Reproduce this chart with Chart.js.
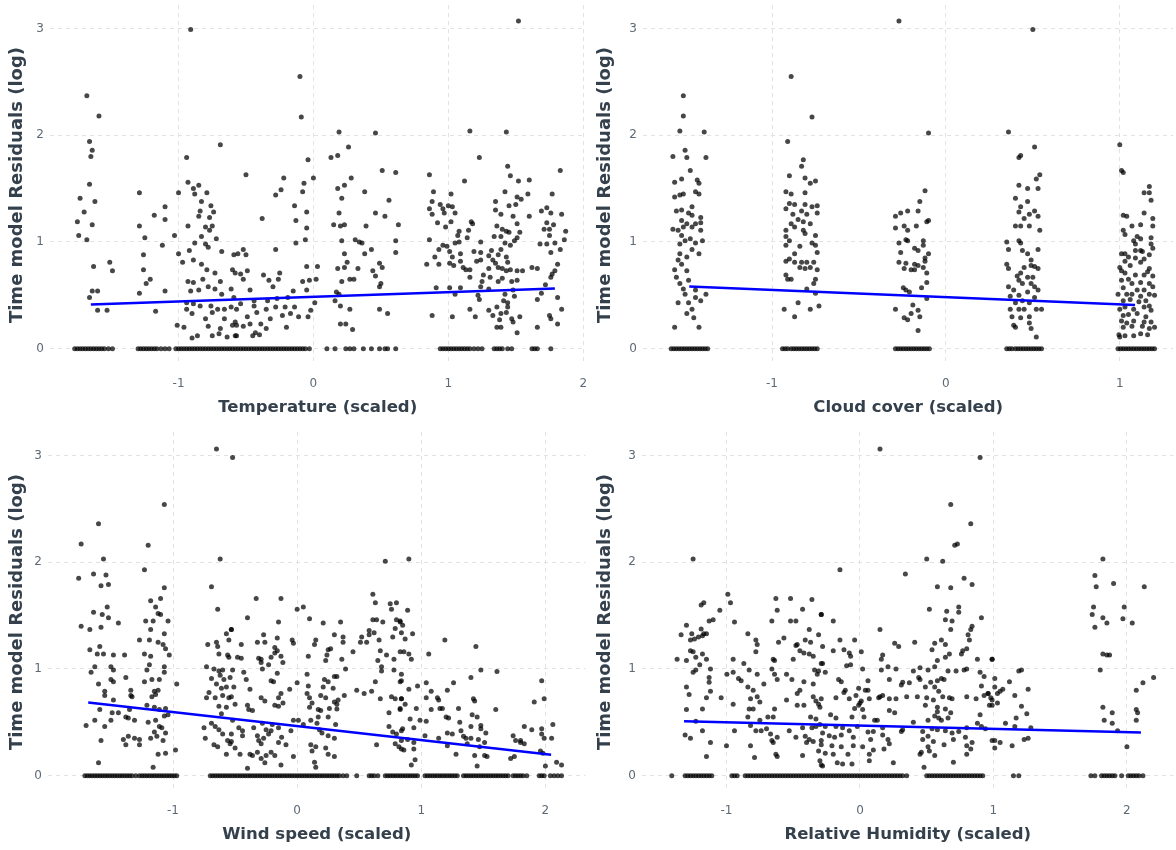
<!DOCTYPE html>
<html>
<head>
<meta charset="utf-8">
<script src="https://cdn.jsdelivr.net/npm/chart.js@4.4.0/dist/chart.umd.min.js"></script>
<style>
  body { margin: 0; background: #fff; }
  .panel { position: absolute; width: 588px; height: 425px; }
</style>
</head>
<body>
<div class="panel" style="left:0;top:0"><canvas id="tempChart" width="588" height="425"></canvas></div>
<div class="panel" style="left:588px;top:0"><canvas id="cloudChart" width="588" height="425"></canvas></div>
<div class="panel" style="left:0;top:427px"><canvas id="windChart" width="588" height="425"></canvas></div>
<div class="panel" style="left:588px;top:427px"><canvas id="humChart" width="588" height="425"></canvas></div>
<script>
// --- data: [x (scaled), residual (log)] ---
const yTicks = [0, 1, 2, 3];

// Temperature
const tempTicks = [-1, 0, 1, 2];
const tempPoints = [
  [-0.91,2.99],[-1.68,2.37],[-1.59,2.18],[-1.66,1.94],[-1.64,1.86],[-1.65,1.80],[-0.69,1.91],[-0.94,1.79],[-1.66,1.54],[-1.73,1.41],
  [-1.62,1.38],[-1.70,1.28],[-1.75,1.19],[-1.64,1.16],[-1.74,1.06],[-1.68,1.02],[-1.63,0.77],[-1.51,0.81],[-1.49,0.73],[-1.64,0.54],
  [-1.60,0.54],[-1.66,0.48],[-1.60,0.36],[-1.53,0.36],[-1.29,1.46],[-1.29,1.15],[-1.25,1.04],[-1.18,1.25],[-1.10,1.33],[-1.10,1.21],
  [-1.12,0.97],[-1.03,1.06],[-1.26,0.88],[-1.26,0.74],[-1.21,0.65],[-1.24,0.61],[-1.29,0.52],[-1.10,0.54],[-1.17,0.35],[-1.00,1.46],
  [-0.93,1.56],[-0.89,1.50],[-0.85,1.53],[-0.88,1.45],[-0.79,1.46],[-0.83,1.38],[-0.76,1.34],[-0.74,1.28],[-0.84,1.29],[-0.85,1.24],
  [-0.77,1.23],[-0.93,1.15],[-0.80,1.14],[-0.75,1.15],[-0.77,1.11],[-0.83,1.05],[-0.72,1.03],[-1.00,0.89],[-0.92,0.92],[-0.88,0.99],
  [-0.80,0.98],[-0.78,0.95],[-0.68,0.91],[-0.97,0.81],[-0.89,0.83],[-0.83,0.79],[-0.79,0.74],[-0.73,0.71],[-0.60,0.74],[-0.93,0.63],
  [-0.89,0.62],[-0.82,0.65],[-0.69,0.63],[-0.61,0.56],[-0.91,0.54],[-0.85,0.55],[-0.78,0.58],[-0.73,0.56],[-0.68,0.51],[-0.94,0.43],
  [-0.89,0.42],[-0.76,0.40],[-0.71,0.37],[-0.66,0.37],[-0.61,0.39],[-0.94,0.37],[-0.90,0.33],[-0.84,0.40],[-0.75,0.34],[-0.80,0.28],
  [-0.66,0.28],[-0.60,0.22],[-1.01,0.22],[-0.96,0.20],[-0.78,0.21],[-0.69,0.19],[-0.58,0.25],[-0.86,0.12],[-0.90,0.10],[-0.75,0.12],
  [-0.70,0.14],[-0.64,0.11],[-0.58,0.12],[-0.58,0.71],[-0.56,0.89],
  [-0.10,2.55],[-0.09,2.17],[0.19,2.03],[0.46,2.02],[0.26,1.89],[0.13,1.79],[0.18,1.81],[-0.04,1.77],[-0.50,1.63],[-0.22,1.60],
  [0.00,1.60],[-0.07,1.55],[0.28,1.60],[0.51,1.67],[0.61,1.65],[-0.24,1.49],[-0.28,1.44],[-0.08,1.47],[0.18,1.50],[0.23,1.53],
  [0.38,1.47],[0.21,1.41],[0.56,1.39],[-0.14,1.34],[-0.05,1.28],[0.19,1.27],[0.46,1.27],[0.53,1.24],[-0.38,1.22],[-0.13,1.20],
  [0.15,1.16],[0.20,1.15],[0.23,1.16],[0.39,1.15],[0.63,1.16],[-0.05,1.13],[-0.13,0.99],[-0.06,1.02],[0.21,1.01],[0.31,1.02],
  [0.34,1.00],[0.36,0.99],[0.61,1.01],[0.61,0.90],[0.43,0.93],[0.38,0.89],[0.23,0.89],[-0.28,0.93],[-0.52,0.93],[-0.50,0.88],
  [-0.59,0.88],[-0.05,0.77],[0.03,0.77],[0.18,0.75],[0.25,0.81],[0.23,0.76],[0.33,0.75],[0.44,0.73],[0.49,0.80],[0.51,0.76],
  [-0.49,0.73],[-0.37,0.69],[-0.54,0.70],[-0.33,0.64],[-0.25,0.71],[-0.26,0.65],[-0.52,0.65],[-0.08,0.63],[-0.03,0.64],[0.02,0.65],
  [0.21,0.63],[0.27,0.65],[0.30,0.65],[0.46,0.68],[0.50,0.61],[-0.05,0.55],[-0.30,0.58],[-0.47,0.55],[-0.15,0.54],[0.17,0.53],
  [0.19,0.51],[0.49,0.58],[-0.59,0.48],[-0.44,0.45],[-0.34,0.45],[-0.27,0.47],[-0.19,0.48],[-0.54,0.42],[-0.44,0.40],[-0.35,0.37],
  [-0.28,0.39],[-0.21,0.39],[-0.14,0.39],[-0.02,0.36],[0.01,0.43],[0.16,0.45],[0.20,0.40],[0.27,0.37],[0.49,0.37],[0.55,0.33],
  [-0.57,0.37],[-0.49,0.30],[-0.42,0.34],[-0.32,0.28],[-0.23,0.31],[-0.17,0.33],[-0.11,0.30],[-0.04,0.30],[-0.57,0.22],[-0.52,0.21],
  [-0.47,0.23],[-0.39,0.23],[-0.35,0.19],[-0.20,0.20],[0.20,0.23],[0.24,0.23],[0.29,0.18],[-0.57,0.12],[-0.45,0.12],[-0.40,0.13],
  [-0.43,0.15],
  [1.52,3.07],[1.16,2.04],[1.43,2.03],[1.23,1.79],[1.44,1.71],[1.83,1.67],[0.86,1.63],[1.46,1.62],[1.12,1.57],[1.52,1.57],
  [1.60,1.58],[0.89,1.47],[1.02,1.45],[1.42,1.47],[1.59,1.45],[1.77,1.45],[1.51,1.42],[1.54,1.40],[0.88,1.38],[1.35,1.38],
  [0.94,1.35],[1.00,1.34],[1.03,1.33],[0.86,1.31],[0.96,1.31],[1.45,1.34],[1.50,1.35],[1.35,1.30],[1.73,1.32],[0.88,1.26],
  [0.97,1.27],[1.05,1.27],[1.39,1.26],[1.69,1.29],[1.76,1.27],[1.84,1.26],[1.48,1.24],[1.60,1.24],[0.92,1.18],[1.02,1.19],
  [1.17,1.19],[1.51,1.17],[1.73,1.18],[1.78,1.16],[0.98,1.14],[1.18,1.17],[1.36,1.15],[1.40,1.12],[1.71,1.12],[1.75,1.12],
  [1.08,1.10],[1.15,1.11],[1.43,1.10],[1.45,1.09],[1.53,1.09],[1.87,1.10],[1.75,1.06],[1.07,1.06],[1.14,1.04],[1.34,1.05],
  [1.39,1.05],[1.49,1.01],[0.86,1.02],[1.05,0.99],[1.08,1.00],[1.24,1.00],[1.51,1.04],[1.86,1.02],[0.96,0.97],[0.99,0.96],
  [1.68,0.98],[1.73,0.98],[1.79,0.99],[1.42,0.99],[1.46,0.97],[0.93,0.93],[1.01,0.91],[1.19,0.91],[1.24,0.90],[1.32,0.92],
  [1.39,0.93],[1.83,0.93],[1.76,0.90],[0.90,0.86],[1.03,0.86],[1.09,0.89],[1.30,0.87],[1.37,0.88],[1.43,0.86],[0.84,0.79],
  [0.93,0.79],[1.01,0.80],[1.04,0.78],[1.09,0.82],[1.11,0.76],[1.21,0.82],[1.24,0.83],[1.33,0.83],[1.35,0.80],[1.44,0.81],
  [1.37,0.76],[1.40,0.75],[1.43,0.73],[1.46,0.74],[1.51,0.73],[1.55,0.73],[1.62,0.76],[1.66,0.75],[1.81,0.79],[1.79,0.73],
  [1.13,0.74],[1.16,0.74],[1.30,0.75],[1.16,0.67],[1.26,0.69],[1.31,0.67],[1.40,0.66],[1.77,0.70],[1.76,0.67],[1.25,0.63],
  [1.47,0.63],[1.51,0.64],[1.37,0.63],[0.91,0.57],[1.01,0.57],[1.09,0.57],[1.24,0.58],[1.30,0.56],[1.72,0.60],[1.05,0.51],
  [1.22,0.50],[1.42,0.51],[1.48,0.55],[1.69,0.52],[1.23,0.46],[1.41,0.45],[1.49,0.49],[1.66,0.46],[1.81,0.48],[1.44,0.43],
  [1.44,0.39],[1.16,0.37],[1.30,0.36],[1.36,0.39],[1.84,0.37],[0.88,0.31],[1.03,0.30],[1.20,0.30],[1.33,0.31],[1.39,0.33],
  [1.43,0.34],[1.53,0.30],[1.75,0.31],[1.76,0.28],[1.38,0.27],[1.47,0.28],[1.48,0.25],[1.81,0.23],[1.36,0.20],[1.39,0.20],
  [1.66,0.20],[1.51,0.15]
];
const tempZeros = [
  -1.77,-1.75,-1.73,-1.71,-1.69,-1.67,-1.65,-1.63,-1.61,-1.59,-1.57,-1.55,-1.52,-1.49,
  -1.30,-1.28,-1.26,-1.24,-1.22,-1.20,-1.18,-1.16,-1.13,-1.10,-1.07,
  -1.02,-1.00,-0.98,-0.96,-0.94,-0.92,-0.90,-0.88,-0.86,-0.84,-0.82,-0.80,-0.78,-0.76,-0.74,-0.72,-0.70,-0.68,-0.66,-0.64,
  -0.62,-0.60,-0.58,-0.56,-0.54,-0.52,-0.50,-0.48,-0.46,-0.44,-0.42,-0.40,-0.38,-0.36,-0.34,-0.32,-0.30,-0.28,-0.26,-0.24,
  -0.22,-0.20,-0.18,-0.16,-0.14,-0.12,-0.10,-0.08,-0.06,-0.03,
  0.10,0.16,0.24,0.27,0.30,0.37,0.43,0.49,0.53,0.55,0.61,
  0.94,0.96,0.98,1.00,1.02,1.04,1.06,1.08,1.10,1.12,1.14,1.16,1.19,1.22,1.25,1.34,1.36,1.38,1.40,1.44,1.47,1.62,1.64,1.66,1.76
];
const tempFitX = [-1.65, 1.79];
const tempFitY = [0.414, 0.564];

// Cloud cover
const cloudTicks = [-1, 0, 1];
const cloudPoints = [
  [-1.51,2.37],[-1.51,2.18],[-1.53,2.04],[-1.39,2.03],[-1.50,1.86],[-1.57,1.80],[-1.49,1.79],[-1.38,1.79],[-1.47,1.67],[-1.56,1.56],
  [-1.52,1.59],[-1.43,1.58],[-1.42,1.55],[-1.44,1.47],[-1.42,1.45],[-1.56,1.42],[-1.53,1.44],[-1.51,1.45],[-1.46,1.33],[-1.55,1.29],
  [-1.52,1.30],[-1.48,1.27],[-1.46,1.25],[-1.41,1.23],[-1.52,1.20],[-1.49,1.17],[-1.44,1.17],[-1.41,1.18],[-1.57,1.12],[-1.54,1.11],
  [-1.51,1.14],[-1.46,1.14],[-1.41,1.11],[-1.52,1.06],[-1.47,1.03],[-1.53,0.98],[-1.50,1.01],[-1.44,0.99],[-1.40,1.01],[-1.46,0.93],
  [-1.53,0.89],[-1.42,0.89],[-1.49,0.86],[-1.54,0.83],[-1.52,0.79],[-1.56,0.74],[-1.49,0.73],[-1.55,0.67],[-1.48,0.64],[-1.53,0.61],
  [-1.51,0.56],[-1.44,0.55],[-1.50,0.51],[-1.38,0.51],[-1.44,0.48],[-1.41,0.45],[-1.54,0.43],[-1.48,0.43],[-1.46,0.37],[-1.49,0.33],
  [-1.45,0.29],[-1.56,0.20],[-1.42,0.20],
  [-0.89,2.55],[-0.77,2.17],[-0.91,1.94],[-0.82,1.77],[-0.83,1.71],[-0.90,1.62],[-0.81,1.60],[-0.78,1.55],[-0.75,1.57],[-0.81,1.46],
  [-0.92,1.47],[-0.89,1.45],[-0.90,1.36],[-0.87,1.35],[-0.92,1.31],[-0.81,1.35],[-0.77,1.33],[-0.74,1.34],[-0.74,1.27],[-0.88,1.26],
  [-0.83,1.29],[-0.85,1.21],[-0.80,1.26],[-0.89,1.17],[-0.82,1.19],[-0.78,1.17],[-0.87,1.14],[-0.92,1.11],[-0.82,1.11],[-0.75,1.06],
  [-0.81,1.08],[-0.92,1.05],[-0.77,0.99],[-0.90,1.01],[-0.75,0.97],[-0.92,0.97],[-0.74,0.90],[-0.84,0.96],[-0.87,0.89],[-0.90,0.84],
  [-0.92,0.82],[-0.87,0.81],[-0.83,0.81],[-0.80,0.81],[-0.76,0.81],[-0.84,0.76],[-0.81,0.75],[-0.78,0.76],[-0.74,0.74],[-0.92,0.69],
  [-0.91,0.65],[-0.89,0.65],[-0.75,0.65],[-0.76,0.61],[-0.80,0.56],[-0.75,0.52],[-0.85,0.43],[-0.93,0.37],[-0.78,0.37],[-0.73,0.40],
  [-0.87,0.30],
  [-0.27,3.07],[-0.10,2.02],[-0.12,1.48],[-0.15,1.38],[-0.29,1.24],[-0.26,1.27],[-0.22,1.29],[-0.16,1.29],[-0.11,1.19],[-0.10,1.20],
  [-0.29,1.13],[-0.24,1.15],[-0.22,1.11],[-0.17,1.15],[-0.27,0.99],[-0.23,1.02],[-0.22,1.01],[-0.13,1.01],[-0.13,0.97],[-0.18,0.94],
  [-0.16,0.92],[-0.26,0.90],[-0.10,0.89],[-0.12,0.85],[-0.27,0.81],[-0.23,0.80],[-0.18,0.79],[-0.16,0.78],[-0.12,0.82],[-0.24,0.75],
  [-0.20,0.74],[-0.18,0.74],[-0.13,0.76],[-0.11,0.71],[-0.11,0.62],[-0.14,0.57],[-0.245,0.57],[-0.23,0.55],[-0.21,0.53],[-0.11,0.47],
  [-0.29,0.37],[-0.19,0.41],[-0.20,0.33],[-0.16,0.36],[-0.15,0.30],[-0.24,0.29],[-0.22,0.27],[-0.16,0.17],
  [0.50,2.99],[0.36,2.03],[0.51,1.89],[0.42,1.79],[0.43,1.81],[0.54,1.63],[0.52,1.59],[0.42,1.53],[0.47,1.50],[0.53,1.50],
  [0.40,1.41],[0.47,1.38],[0.43,1.33],[0.42,1.28],[0.48,1.26],[0.51,1.29],[0.53,1.24],[0.45,1.22],[0.40,1.15],[0.43,1.15],
  [0.48,1.15],[0.54,1.11],[0.35,1.00],[0.42,1.01],[0.43,0.99],[0.36,0.93],[0.44,0.92],[0.53,0.93],[0.47,0.89],[0.49,0.83],
  [0.35,0.79],[0.36,0.75],[0.45,0.76],[0.49,0.78],[0.51,0.77],[0.53,0.75],[0.43,0.71],[0.41,0.68],[0.47,0.67],[0.50,0.67],
  [0.42,0.64],[0.44,0.61],[0.49,0.61],[0.36,0.58],[0.51,0.58],[0.39,0.55],[0.53,0.55],[0.47,0.53],[0.42,0.50],[0.37,0.49],
  [0.51,0.48],[0.44,0.45],[0.40,0.43],[0.48,0.43],[0.37,0.37],[0.42,0.37],[0.45,0.37],[0.52,0.37],[0.55,0.37],[0.38,0.30],
  [0.43,0.29],[0.48,0.30],[0.39,0.22],[0.40,0.20],[0.48,0.24],[0.49,0.19],[0.52,0.11],
  [1.00,1.91],[1.01,1.67],[1.02,1.65],[1.17,1.52],[1.14,1.46],[1.17,1.46],[1.18,1.39],[1.02,1.25],[1.04,1.24],[1.14,1.27],
  [1.19,1.22],[1.12,1.16],[1.07,1.15],[1.19,1.15],[1.02,1.11],[1.03,1.07],[1.10,1.05],[1.08,1.01],[1.12,1.03],[1.18,1.04],
  [1.18,0.98],[1.09,0.98],[1.19,0.94],[1.09,0.92],[1.12,0.92],[1.13,0.91],[1.01,0.89],[1.03,0.89],[1.17,0.88],[1.05,0.86],
  [1.09,0.85],[1.14,0.84],[1.03,0.82],[1.12,0.81],[1.06,0.78],[1.00,0.76],[1.01,0.73],[1.17,0.75],[1.16,0.72],[1.03,0.71],
  [1.09,0.69],[1.14,0.69],[1.19,0.68],[1.05,0.65],[1.01,0.64],[1.07,0.61],[1.12,0.62],[1.17,0.61],[1.02,0.57],[1.10,0.55],
  [1.14,0.55],[1.19,0.58],[0.99,0.51],[1.04,0.51],[1.07,0.51],[1.12,0.49],[1.17,0.51],[1.20,0.50],[1.02,0.45],[1.06,0.46],
  [1.11,0.44],[1.15,0.45],[1.17,0.40],[1.00,0.37],[1.03,0.39],[1.08,0.37],[1.14,0.39],[1.18,0.36],[1.02,0.31],[1.05,0.32],
  [1.10,0.33],[1.15,0.30],[1.01,0.26],[1.04,0.24],[1.08,0.26],[1.14,0.25],[1.18,0.25],[1.02,0.20],[1.07,0.21],[1.13,0.21],
  [1.17,0.19],[1.20,0.20],[0.995,0.13],[1.03,0.12],[1.08,0.12],[1.12,0.14],[1.16,0.13],[1.00,0.11]
];
const cloudZeros = [
  -1.58,-1.565,-1.55,-1.535,-1.52,-1.505,-1.49,-1.475,-1.46,-1.445,-1.43,-1.415,-1.40,-1.385,-1.37,
  -0.94,-0.925,-0.91,-0.89,-0.875,-0.86,-0.845,-0.83,-0.815,-0.80,-0.785,-0.77,-0.755,-0.74,
  -0.29,-0.275,-0.26,-0.245,-0.23,-0.215,-0.20,-0.185,-0.17,-0.155,-0.14,-0.125,-0.11,-0.095,
  0.35,0.365,0.38,0.40,0.415,0.43,0.445,0.46,0.475,0.49,0.505,0.52,0.535,0.55,
  0.99,1.005,1.02,1.035,1.05,1.065,1.08,1.095,1.11,1.125,1.14,1.155,1.17,1.185,1.20
];
const cloudFitX = [-1.476, 1.088];
const cloudFitY = [0.582, 0.41];

// Wind speed
const windTicks = [-1, 0, 1, 2];
const windPoints = [
  [-0.65,3.06],[-0.52,2.98],[-1.60,2.36],[-1.07,2.54],[-1.74,2.17],[-1.20,2.16],[-1.56,2.03],[-0.62,2.03],[-1.23,1.93],[-1.76,1.85],
  [-1.64,1.89],[-1.54,1.88],[-1.58,1.78],[-1.52,1.79],[-1.07,1.76],[-0.69,1.77],[-1.18,1.64],[-1.10,1.66],[-1.14,1.58],[-0.64,1.56],
  [-1.64,1.53],[-1.57,1.51],[-1.53,1.58],[-1.52,1.48],[-1.12,1.52],[-1.10,1.51],[-1.74,1.40],[-1.67,1.37],[-1.58,1.39],[-1.44,1.43],
  [-1.22,1.45],[-1.16,1.45],[-1.04,1.45],[-1.18,1.37],[-1.07,1.33],[-1.27,1.27],[-1.19,1.27],[-1.12,1.25],[-1.08,1.23],[-1.06,1.19],
  [-1.67,1.18],[-1.59,1.21],[-1.61,1.14],[-1.56,1.14],[-1.48,1.13],[-1.39,1.13],[-1.23,1.14],[-1.18,1.12],[-1.03,1.13],[-1.66,0.97],
  [-1.63,1.02],[-1.50,1.02],[-1.48,0.99],[-1.38,0.92],[-1.21,0.99],[-1.19,1.04],[-1.07,1.02],[-1.07,0.97],[-1.60,0.86],[-1.50,0.90],
  [-1.48,0.88],[-1.23,0.88],[-1.17,0.90],[-1.11,0.90],[-0.97,0.86],[-1.55,0.79],[-1.34,0.80],[-1.15,0.79],[-1.12,0.80],[-1.55,0.75],
  [-1.48,0.71],[-1.34,0.75],[-1.33,0.74],[-1.17,0.74],[-1.14,0.76],[-1.21,0.66],[-1.59,0.62],[-1.49,0.59],[-1.44,0.59],[-1.35,0.62],
  [-1.15,0.64],[-1.11,0.62],[-1.06,0.63],[-1.07,0.56],[-1.04,0.57],[-1.38,0.55],[-1.36,0.54],[-1.31,0.52],[-1.63,0.52],[-1.55,0.46],
  [-1.50,0.52],[-1.20,0.50],[-1.14,0.52],[-1.70,0.47],[-1.11,0.46],[-1.09,0.45],[-1.15,0.41],[-1.06,0.40],[-1.13,0.37],[-1.18,0.35],
  [-1.58,0.33],[-1.40,0.34],[-1.36,0.37],[-1.31,0.35],[-1.27,0.34],[-1.08,0.33],[-1.38,0.29],[-1.27,0.29],[-1.12,0.20],[-1.06,0.21],
  [-0.98,0.24],[-1.60,0.12],[-1.16,0.08],
  [-0.72,1.23],[-0.65,1.25],[-0.64,1.21],[-0.63,1.14],[-0.57,1.33],[-0.55,1.27],[-0.53,1.37],[-0.56,1.13],[-0.73,1.02],[-0.67,1.00],
  [-0.63,0.98],[-0.60,0.99],[-0.52,0.99],[-0.69,0.91],[-0.62,0.94],[-0.59,0.90],[-0.65,0.86],[-0.61,0.82],[-0.57,0.83],[-0.71,0.78],
  [-0.73,0.73],[-0.66,0.73],[-0.60,0.75],[-0.55,0.73],[-0.63,0.65],[-0.57,0.64],[-0.61,0.58],[-0.52,0.52],[-0.69,0.49],[-0.66,0.46],
  [-0.75,0.45],[-0.63,0.43],[-0.60,0.39],[-0.56,0.33],[-0.74,0.35],[-0.67,0.29],[-0.64,0.27],[-0.57,0.20],[-0.54,0.30],
  [0.71,2.01],[-0.33,1.66],[-0.13,1.66],[0.61,1.70],[0.63,1.62],[0.00,1.56],[0.05,1.58],[0.75,1.61],[0.80,1.62],[0.76,1.56],
  [-0.40,1.48],[0.10,1.47],[0.61,1.46],[0.64,1.46],[0.69,1.44],[0.80,1.46],[0.83,1.44],[-0.15,1.44],[0.21,1.43],[0.35,1.44],
  [-0.53,1.37],[0.58,1.36],[0.62,1.34],[0.79,1.38],[-0.27,1.32],[0.30,1.32],[0.37,1.30],[0.52,1.30],[0.58,1.32],[0.77,1.30],
  [0.84,1.34],[-0.16,1.29],[-0.04,1.27],[0.15,1.27],[-0.45,1.23],[-0.32,1.25],[-0.26,1.25],[-0.03,1.24],[0.14,1.23],[0.37,1.25],
  [0.51,1.25],[0.56,1.25],[0.66,1.27],[-0.18,1.20],[0.25,1.18],[0.27,1.19],[-0.18,1.15],[-0.16,1.17],[0.45,1.16],[0.67,1.17],
  [-0.55,1.11],[-0.48,1.11],[-0.45,1.10],[-0.31,1.10],[-0.29,1.09],[-0.21,1.11],[-0.13,1.12],[0.09,1.12],[0.24,1.13],[0.36,1.09],
  [0.72,1.13],[0.78,1.09],[0.83,1.16],[-0.29,1.06],[-0.23,1.04],[-0.115,1.06],[0.23,1.08],[0.65,1.08],[0.68,1.02],[-0.28,1.00],
  [0.39,1.00],[0.68,0.98],[-0.43,0.97],[-0.16,0.96],[0.08,0.95],[0.30,0.93],[0.78,0.99],[-0.54,0.92],[-0.41,0.90],[-0.21,0.89],
  [-0.19,0.88],[0.00,0.87],[0.22,0.90],[0.25,0.88],[0.32,0.93],[0.63,0.88],[0.84,0.89],[-0.51,0.83],[-0.38,0.81],[-0.06,0.81],
  [0.09,0.84],[0.21,0.83],[0.29,0.82],[0.48,0.80],[0.54,0.77],[0.60,0.79],[-0.13,0.77],[0.08,0.77],[0.19,0.75],[0.38,0.75],
  [0.76,0.74],[0.79,0.72],[0.84,0.72],[-0.53,0.74],[-0.29,0.73],[-0.15,0.73],[0.10,0.73],[0.23,0.73],[0.33,0.71],[0.67,0.72],
  [-0.50,0.67],[-0.26,0.70],[-0.18,0.66],[-0.114,0.68],[0.12,0.68],[0.30,0.69],[0.32,0.67],[-0.40,0.66],[-0.15,0.65],[-0.39,0.62],
  [-0.36,0.61],[0.10,0.64],[0.17,0.62],[0.19,0.61],[0.26,0.63],[0.32,0.625],[0.83,0.63],[0.74,0.59],[0.17,0.55],[0.25,0.55],
  [0.16,0.49],[-0.03,0.52],[0.01,0.52],[0.05,0.48],[0.11,0.52],[0.31,0.48],[-0.28,0.49],[-0.20,0.48],[-0.35,0.45],[-0.44,0.42],
  [-0.25,0.43],[-0.15,0.45],[0.18,0.43],[0.20,0.40],[-0.05,0.42],[-0.47,0.45],[-0.53,0.39],[-0.44,0.375],[-0.32,0.375],[-0.27,0.35],
  [-0.23,0.39],[-0.21,0.42],[-0.125,0.36],[0.25,0.375],[0.30,0.35],[0.74,0.46],[0.77,0.41],[0.80,0.39],[0.84,0.42],[-0.31,0.33],
  [-0.29,0.30],[-0.15,0.31],[-0.09,0.29],[0.11,0.29],[0.15,0.27],[0.23,0.26],[0.64,0.29],[0.79,0.30],[0.82,0.27],[0.84,0.25],
  [-0.53,0.32],[-0.50,0.26],[-0.38,0.20],[-0.36,0.19],[-0.46,0.20],[-0.32,0.22],[-0.25,0.19],[-0.21,0.22],[-0.18,0.19],[-0.03,0.18],
  [0.12,0.23],[0.25,0.20],[0.30,0.18],[-0.29,0.16],[-0.40,0.07],[-0.26,0.12],[-0.13,0.10],[0.14,0.125],[0.15,0.08],
  [0.90,2.03],[0.89,1.55],[0.83,1.45],[0.85,1.41],[0.93,1.33],[0.87,1.28],[1.19,1.27],[1.44,1.21],[0.86,1.16],[0.90,1.14],
  [0.92,1.09],[1.06,1.14],[1.48,0.99],[1.61,0.975],[0.84,0.95],[1.40,0.92],[1.97,0.89],[0.83,0.88],[1.04,0.87],[1.26,0.87],
  [0.97,0.84],[0.90,0.81],[1.21,0.80],[1.08,0.79],[1.04,0.73],[1.13,0.73],[1.14,0.71],[1.42,0.72],[1.43,0.70],[1.99,0.72],
  [1.91,0.69],[0.84,0.72],[0.87,0.67],[1.15,0.63],[1.17,0.63],[1.30,0.63],[0.96,0.63],[1.08,0.62],[1.60,0.62],[0.83,0.62],
  [1.41,0.57],[1.45,0.55],[1.20,0.55],[1.22,0.54],[0.91,0.53],[0.99,0.52],[1.04,0.51],[1.31,0.50],[1.40,0.46],[1.48,0.47],
  [1.48,0.44],[2.06,0.48],[1.83,0.46],[1.89,0.43],[1.97,0.44],[0.94,0.45],[0.85,0.44],[1.21,0.40],[1.25,0.39],[1.32,0.42],
  [1.52,0.40],[1.74,0.375],[1.97,0.39],[1.03,0.375],[1.14,0.35],[1.34,0.37],[1.36,0.35],[1.40,0.35],[1.46,0.34],[1.76,0.33],
  [1.80,0.33],[1.99,0.35],[2.05,0.35],[0.89,0.34],[0.84,0.33],[0.94,0.31],[1.51,0.31],[1.80,0.31],[1.83,0.30],[1.21,0.28],
  [1.37,0.30],[1.47,0.27],[0.86,0.24],[0.94,0.25],[1.96,0.23],[1.98,0.21],[1.28,0.20],[1.43,0.19],[1.51,0.19],[1.53,0.18],
  [1.72,0.16],[1.75,0.18],[2.00,0.09],[2.09,0.125],[2.13,0.10],[0.95,0.15],[1.45,0.09],[0.92,0.10]
];
const windZeros = [
  -1.71,-1.69,-1.67,-1.65,-1.63,-1.61,-1.59,-1.57,-1.55,-1.53,-1.51,-1.49,-1.47,-1.45,-1.43,-1.41,-1.39,-1.37,-1.35,-1.33,
  -1.30,-1.27,-1.25,-1.23,-1.21,-1.19,-1.17,-1.15,-1.13,-1.11,-1.09,-1.07,-1.05,-1.03,-1.01,-0.99,-0.97,
  -0.70,-0.68,-0.66,-0.64,-0.62,-0.60,-0.58,-0.56,-0.54,-0.52,-0.50,-0.48,-0.46,-0.44,-0.42,-0.40,-0.38,-0.36,-0.34,-0.32,
  -0.30,-0.28,-0.26,-0.24,-0.22,-0.20,-0.18,-0.16,-0.14,-0.12,-0.10,-0.08,-0.06,-0.04,-0.02,0.00,0.02,0.04,0.06,0.08,
  0.10,0.12,0.14,0.16,0.18,0.20,0.22,0.24,0.26,0.28,0.30,0.32,0.34,0.37,0.40,0.48,0.58,0.60,0.62,0.65,
  0.71,0.73,0.75,0.77,0.79,0.81,0.83,0.85,0.87,0.89,0.91,0.93,0.95,0.97,1.03,1.05,1.07,1.09,1.11,1.13,
  1.15,1.17,1.19,1.21,1.23,1.25,1.27,1.29,1.34,1.36,1.38,1.40,1.42,1.44,1.46,1.48,1.50,1.52,1.54,1.56,
  1.58,1.60,1.62,1.64,1.66,1.68,1.70,1.74,1.76,1.78,1.80,1.82,1.85,1.95,1.97,1.99,2.04,2.07,2.10,2.13
];
const windFitX = [-1.683, 2.046];
const windFitY = [0.686, 0.197];

// Relative Humidity
const humTicks = [-1, 0, 1, 2];
const humPoints = [
  [-1.25,2.03],[-0.99,1.70],[-0.97,1.62],[-1.19,1.60],[-1.17,1.62],[-1.05,1.55],[-1.13,1.45],[-1.10,1.46],[-0.94,1.44],[-1.30,1.41],
  [-1.34,1.32],[-1.26,1.33],[-1.19,1.375],[-1.17,1.33],[-1.15,1.33],[-1.27,1.27],[-1.24,1.28],[-1.21,1.30],[-1.18,1.31],[-1.27,1.17],
  [-1.25,1.16],[-1.37,1.09],[-1.30,1.08],[-1.23,1.11],[-1.18,1.14],[-1.15,1.09],[-1.20,1.04],[-1.23,0.99],[-1.12,1.00],[-1.25,0.97],
  [-0.997,0.95],[-0.95,0.97],[-0.95,1.09],[-1.13,0.92],[-0.91,0.91],[-0.89,0.89],[-0.87,1.05],[-0.83,0.99],[-0.77,0.95],[-0.72,0.86],
  [-0.84,1.33],[-0.78,1.27],[-0.77,1.23],[-0.78,1.16],[-0.66,1.45],[-0.63,1.66],[-0.62,1.55],[-0.52,1.66],[-0.52,1.45],[-0.48,1.45],
  [-0.43,1.56],[-0.36,1.65],[-0.29,1.51],[-0.38,1.37],[-0.61,1.25],[-0.57,1.29],[-0.47,1.23],[-0.48,1.22],[-0.41,1.27],[-0.37,1.25],
  [-0.31,1.32],[-0.65,1.09],[-0.64,1.08],[-0.66,1.00],[-0.64,0.95],[-0.62,0.90],[-0.55,0.95],[-0.50,1.09],[-0.45,1.17],[-0.42,1.15],
  [-0.38,1.14],[-0.35,1.12],[-0.51,0.90],[-0.42,0.88],[-0.35,0.86],[-0.34,0.99],[-0.32,0.95],[-0.28,1.05],[-1.30,0.83],[-1.28,0.76],
  [-1.30,0.62],[-1.18,0.625],[-1.15,0.73],[-1.12,0.79],[-1.04,0.73],[-1.13,0.875],[-0.95,0.67],[-0.84,0.83],[-0.80,0.80],[-0.77,0.74],
  [-0.75,0.69],[-0.82,0.72],[-0.83,0.625],[-0.80,0.625],[-0.84,0.55],[-0.75,0.52],[-0.69,0.55],[-0.65,0.55],[-0.64,0.625],[-0.55,0.71],
  [-0.47,0.77],[-0.45,0.80],[-0.42,0.66],[-0.47,0.66],[-0.35,0.74],[-0.33,0.70],[-0.30,0.64],[-0.37,0.55],[-0.33,0.53],[-1.23,0.51],
  [-1.18,0.42],[-1.31,0.38],[-1.27,0.35],[-1.12,0.31],[-1.15,0.18],[-1.00,0.28],[-0.94,0.42],[-0.82,0.47],[-0.78,0.42],[-0.74,0.42],
  [-0.82,0.28],[-0.79,0.17],[-0.70,0.44],[-0.67,0.39],[-0.66,0.33],[-0.65,0.31],[-0.62,0.36],[-0.63,0.20],[-0.62,0.18],[-0.53,0.42],
  [-0.48,0.36],[-0.43,0.45],[-0.41,0.37],[-0.40,0.31],[-0.38,0.34],[-0.43,0.19],[-0.35,0.32],[-0.33,0.46],[-0.31,0.23],[-0.30,0.14],
  [-0.28,0.09],[-0.29,0.33],[-0.36,0.45],
  [0.15,3.06],[0.90,2.98],[0.68,2.54],[0.83,2.36],[0.71,2.16],[0.73,2.17],[0.50,2.03],[0.62,2.01],[-0.15,1.93],[0.34,1.89],
  [0.58,1.77],[0.68,1.76],[0.78,1.85],[0.84,1.79],[-0.29,1.51],[-0.20,1.45],[0.52,1.56],[0.65,1.54],[0.64,1.46],[0.69,1.45],
  [0.74,1.58],[0.74,1.53],[0.91,1.48],[0.15,1.37],[0.68,1.37],[0.84,1.40],[0.83,1.37],[0.81,1.32],[-0.15,1.27],[-0.04,1.27],
  [0.41,1.25],[0.56,1.24],[0.61,1.27],[0.64,1.23],[0.82,1.27],[-0.28,1.21],[0.26,1.24],[0.29,1.21],[-0.12,1.18],[-0.08,1.15],
  [-0.20,1.17],[0.01,1.16],[0.17,1.13],[0.54,1.18],[0.67,1.14],[0.77,1.17],[0.80,1.19],[0.88,1.09],[-0.29,1.05],[-0.07,1.12],
  [0.16,1.09],[0.58,1.08],[0.64,1.11],[0.76,1.14],[-0.31,0.98],[-0.26,0.97],[-0.10,1.03],[-0.07,1.04],[0.02,1.00],[0.16,0.99],
  [0.21,1.02],[0.27,1.00],[0.40,0.98],[0.45,1.01],[0.51,0.99],[0.56,1.02],[0.66,0.98],[0.72,0.98],[0.78,0.99],[0.80,1.00],
  [0.90,0.97],[0.93,0.93],[0.99,1.09],[-0.16,0.90],[-0.14,0.88],[0.06,0.89],[0.22,0.90],[0.32,0.875],[0.37,0.87],[0.44,0.92],
  [0.45,0.90],[0.53,0.875],[0.58,0.89],[0.61,0.91],[0.63,0.90],[-0.11,0.80],[-0.12,0.78],[-0.01,0.82],[0.04,0.80],[0.06,0.80],
  [0.31,0.85],[0.49,0.83],[0.56,0.83],[0.59,0.79],[0.91,0.84],[0.96,0.77],[-0.29,0.72],[-0.18,0.73],[-0.08,0.72],[-0.03,0.75],
  [0.00,0.68],[0.07,0.72],[0.14,0.73],[0.15,0.74],[0.17,0.75],[0.22,0.72],[0.27,0.72],[0.35,0.74],[0.43,0.74],[0.50,0.73],
  [0.55,0.71],[0.62,0.74],[0.67,0.73],[0.69,0.72],[0.80,0.74],[0.87,0.72],[0.93,0.75],[0.98,0.73],[-0.04,0.63],[0.02,0.62],
  [0.01,0.70],[-0.01,0.66],[0.22,0.61],[0.26,0.59],[0.49,0.66],[0.58,0.64],[0.58,0.60],[0.64,0.625],[0.68,0.59],[0.90,0.57],
  [0.97,0.66],[-0.31,0.67],[-0.22,0.57],[-0.18,0.54],[-0.06,0.55],[0.03,0.55],[0.11,0.52],[0.13,0.52],[0.32,0.43],[0.40,0.50],
  [0.51,0.52],[0.56,0.56],[0.59,0.54],[0.61,0.52],[0.66,0.54],[0.88,0.49],[0.91,0.46],[-0.30,0.48],[-0.26,0.46],[-0.18,0.46],
  [-0.13,0.45],[-0.08,0.42],[-0.02,0.46],[0.06,0.41],[0.10,0.415],[0.17,0.45],[0.31,0.415],[0.47,0.415],[0.54,0.44],[0.58,0.43],
  [0.64,0.42],[0.69,0.40],[0.74,0.415],[0.80,0.45],[0.94,0.44],[0.99,0.33],[-0.28,0.40],[-0.23,0.375],[-0.19,0.36],[-0.14,0.38],
  [-0.05,0.36],[0.08,0.34],[0.17,0.38],[0.21,0.34],[0.47,0.34],[0.51,0.37],[0.55,0.32],[0.63,0.29],[0.70,0.34],[0.79,0.36],
  [0.84,0.31],[-0.29,0.29],[-0.21,0.28],[-0.14,0.27],[-0.05,0.28],[0.02,0.27],[0.22,0.30],[0.46,0.22],[0.51,0.27],[0.56,0.19],
  [0.80,0.28],[0.83,0.25],[-0.26,0.21],[-0.20,0.20],[-0.09,0.20],[0.07,0.20],[0.10,0.24],[0.18,0.25],[0.45,0.20],[0.52,0.23],
  [0.80,0.20],[-0.29,0.10],[-0.17,0.12],[-0.13,0.11],[-0.06,0.11],[0.07,0.14],[0.25,0.12],[0.48,0.08],[0.70,0.125],
  [1.82,2.03],[1.76,1.875],[1.77,1.77],[1.90,1.80],[2.13,1.77],[1.75,1.58],[1.98,1.58],[1.74,1.51],[1.82,1.48],[1.85,1.43],
  [1.97,1.47],[2.04,1.43],[1.76,1.39],[1.82,1.14],[1.85,1.13],[1.87,1.13],[1.80,0.99],[0.99,1.09],[1.19,0.98],[1.21,0.99],
  [1.01,0.91],[1.12,0.88],[1.01,0.83],[1.07,0.81],[1.26,0.81],[1.05,0.79],[1.03,0.77],[0.96,0.77],[0.99,0.71],[1.03,0.68],
  [0.99,0.66],[1.16,0.75],[1.21,0.65],[1.25,0.58],[1.17,0.54],[1.09,0.49],[1.16,0.46],[1.28,0.45],[2.12,0.87],[2.20,0.92],
  [2.07,0.80],[2.07,0.62],[2.08,0.59],[2.07,0.52],[1.82,0.64],[1.89,0.59],[1.83,0.52],[1.89,0.49],[1.93,0.42],[2.00,0.27],
  [1.01,0.33],[1.05,0.31],[1.01,0.26],[1.14,0.28],[1.23,0.34],[1.26,0.35]
];
const humZeros = [
  -1.41,-1.31,-1.29,-1.27,-1.25,-1.23,-1.21,-1.19,-1.17,-1.15,-1.13,-1.11,-0.96,-0.94,-0.92,
  -0.86,-0.84,-0.82,-0.80,-0.78,-0.76,-0.74,-0.72,-0.70,-0.68,-0.66,-0.64,-0.62,-0.60,-0.58,-0.56,-0.54,-0.52,-0.50,-0.48,
  -0.46,-0.44,-0.42,-0.40,-0.38,-0.36,-0.34,-0.32,-0.30,-0.28,-0.26,-0.24,-0.22,-0.20,-0.18,-0.16,-0.14,-0.12,-0.10,-0.08,
  -0.06,-0.04,-0.02,0.00,0.02,0.04,0.06,0.08,0.10,0.12,0.14,0.16,0.18,0.20,0.22,0.24,0.26,0.28,0.30,0.32,0.35,
  0.50,0.52,0.54,0.56,0.58,0.60,0.62,0.64,0.66,0.68,0.70,0.72,0.74,0.76,0.78,0.80,0.82,0.84,0.86,0.88,0.90,0.92,
  1.15,1.19,1.73,1.76,1.81,1.83,1.85,1.87,1.89,1.91,1.96,2.01,2.03,2.05,2.07,2.09,2.12
];
const humFitX = [-1.318, 2.105];
const humFitY = [0.51, 0.404];

const tickColor = '#5d6975';
const titleColor = '#34404c';
const gridColor = '#e2e2e2';

// fixed axis boxes, no extra label padding, so the plot area lands where the picture has it
function fixBox(s, w, h) {
    if (w !== null) s.width = w;
    if (h !== null) s.height = h;
    s.paddingTop = 0;
    s.paddingBottom = 0;
    s.paddingLeft = 0;
    s.paddingRight = 0;
}

function makePanel(id, points, zeros, fitX, fitY, xTicks, xMin, xMax, xTitle, axisW, padRight) {
    const scatter = points.map(p => ({ x: p[0], y: p[1] }))
        .concat(zeros.map(x => ({ x: x, y: 0 })));
    const fit = fitX.map((x, i) => ({ x: x, y: fitY[i] }));

    new Chart(document.getElementById(id), {
        type: 'scatter',
        data: {
            datasets: [
                {
                    type: 'line',
                    data: fit,
                    borderColor: '#0000ff',
                    borderWidth: 2.5,
                    pointRadius: 0,
                    fill: false
                },
                {
                    data: scatter,
                    backgroundColor: 'rgba(0,0,0,0.72)',
                    borderWidth: 0,
                    pointRadius: 2.5,
                    pointHoverRadius: 2.5
                }
            ]
        },
        options: {
            responsive: false,
            animation: false,
            layout: { padding: { top: 5, right: padRight, bottom: 0, left: 0 } },
            plugins: { legend: { display: false }, tooltip: { enabled: false } },
            scales: {
                x: {
                    type: 'linear',
                    min: xMin,
                    max: xMax,
                    afterFit: s => fixBox(s, null, 60),
                    afterBuildTicks: s => { s.ticks = xTicks.map(v => ({ value: v })); },
                    ticks: { color: tickColor, font: { family: 'DejaVu Sans', size: 12 }, padding: 12, callback: v => String(v) },
                    grid: { color: gridColor, drawTicks: false },
                    border: { display: false, dash: [4, 4] },
                    title: {
                        display: true,
                        text: xTitle,
                        color: titleColor,
                        font: { family: 'DejaVu Sans', size: 16.5, weight: 'bold' },
                        padding: { top: 0, bottom: 7 }
                    }
                },
                y: {
                    type: 'linear',
                    min: -0.153,
                    max: 3.22,
                    afterFit: s => fixBox(s, axisW, null),
                    afterBuildTicks: s => { s.ticks = yTicks.map(v => ({ value: v })); },
                    ticks: { color: tickColor, font: { family: 'DejaVu Sans', size: 12 }, padding: 6, callback: v => String(v) },
                    grid: { color: gridColor, drawTicks: false },
                    border: { display: false, dash: [4, 4] },
                    title: {
                        display: true,
                        text: 'Time model Residuals (log)',
                        color: titleColor,
                        font: { family: 'DejaVu Sans', size: 18, weight: 'bold' },
                        padding: { top: 7, bottom: 0 }
                    }
                }
            }
        }
    });
}

makePanel('tempChart', tempPoints, tempZeros, tempFitX, tempFitY, tempTicks, -1.953, 2.017, 'Temperature (scaled)', 50, 2);
makePanel('cloudChart', cloudPoints, cloudZeros, cloudFitX, cloudFitY, cloudTicks, -1.742, 1.309, 'Cloud cover (scaled)', 55, 0);
makePanel('windChart', windPoints, windZeros, windFitX, windFitY, windTicks, -2.007, 2.323, 'Wind speed (scaled)', 48, 0);
makePanel('humChart', humPoints, humZeros, humFitX, humFitY, humTicks, -1.633, 2.349, 'Relative Humidity (scaled)', 54, 0);
</script>
</body>
</html>
